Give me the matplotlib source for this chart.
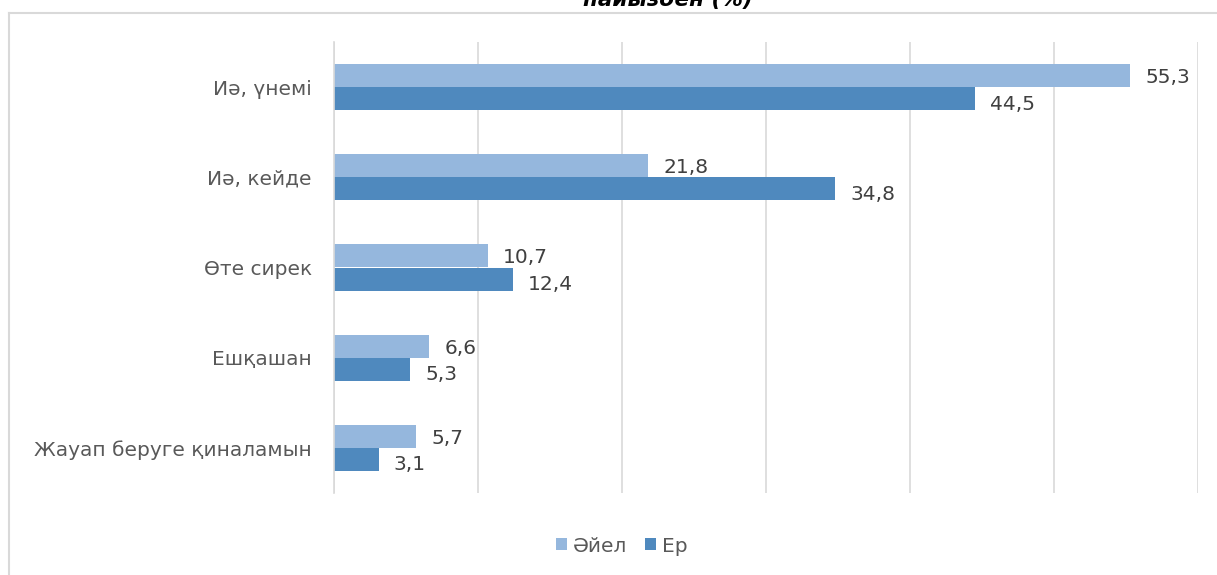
import matplotlib.pyplot as plt
from matplotlib.lines import Line2D
import numpy as np

plt.rcParams['font.family'] = ['DejaVu Sans']

categories = ["Иә, үнемі", "Иә, кейде", "Өте сирек", "Ешқашан", "Жауап беруге қиналамын"]
women = [55.3, 21.8, 10.7, 6.6, 5.7]  # Әйел
men = [44.5, 34.8, 12.4, 5.3, 3.1]    # Ер

c_women = "#95B7DD"
c_men = "#4F89BE"

fig = plt.figure(figsize=(12.17, 5.75), dpi=100)
ax = fig.add_axes([334 / 1217, 1 - 493 / 575, (1198 - 334) / 1217, (493 - 42) / 575])

y = np.arange(len(categories))
h = 0.255
ax.barh(y - h / 2, women, height=h, color=c_women, label="Әйел")
ax.barh(y + h / 2, men, height=h, color=c_men, label="Ер")

for yi, v in zip(y, women):
    ax.text(v + 1.05, yi - h / 2 + 0.02, f"{v:.1f}".replace(".", ","),
            va="center", ha="left", fontsize=14.5, color="#404040")
for yi, v in zip(y, men):
    ax.text(v + 1.05, yi + h / 2 + 0.06, f"{v:.1f}".replace(".", ","),
            va="center", ha="left", fontsize=14.5, color="#404040")

ax.set_ylim(len(categories) - 0.5, -0.5)
ax.set_xlim(0, 60)
ax.set_xticks(np.arange(0, 61, 10))
ax.set_xticklabels([])
ax.set_yticks(y)
ax.set_yticklabels(categories, fontsize=14.5, color="#595959")
ax.tick_params(length=0, pad=16)
ax.xaxis.grid(True, color="#d9d9d9", linewidth=1.2)
ax.set_axisbelow(True)
for s in ["top", "right", "bottom"]:
    ax.spines[s].set_visible(False)
ax.spines["left"].set_color("#d9d9d9")
ax.spines["left"].set_linewidth(1.2)

# chart area frame (cut off at right and bottom)
fig.add_artist(Line2D([9 / 1217, 9 / 1217], [0, 1 - 13 / 575], transform=fig.transFigure,
                      color="#d9d9d9", linewidth=1.5))
fig.add_artist(Line2D([9 / 1217, 1], [1 - 13 / 575, 1 - 13 / 575], transform=fig.transFigure,
                      color="#d9d9d9", linewidth=1.5))

# title, mostly cut off at the top
fig.text(668 / 1217, 1 - 6 / 575, "пайызбен (%)", ha="center", va="baseline",
         fontsize=15.5, fontweight="bold", fontstyle="italic", color="#000000")

ax.legend(loc="center", bbox_to_anchor=(622 / 1217, 1 - 546 / 575), bbox_transform=fig.transFigure,
          ncol=2, frameon=False, fontsize=14.5, handlelength=0.55, handleheight=0.55,
          handletextpad=0.3, columnspacing=0.9, labelcolor="#595959")

fig.savefig("out.png", dpi=100)
